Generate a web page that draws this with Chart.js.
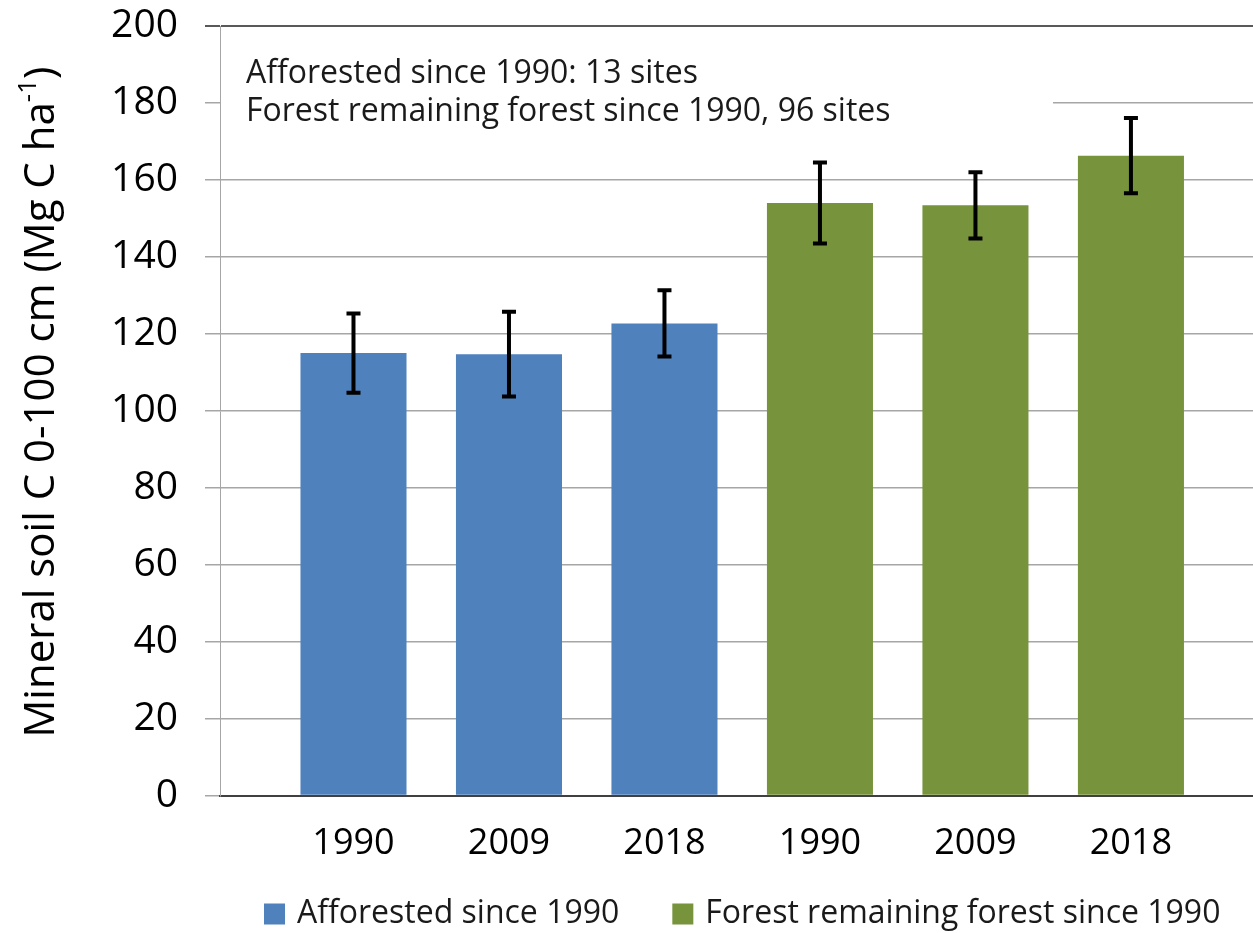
<!DOCTYPE html>
<html>
<head>
<meta charset="utf-8">
<script src="https://cdn.jsdelivr.net/npm/chart.js@4.4.1/dist/chart.umd.min.js"></script>
<style>
  html, body { margin: 0; padding: 0; background: #ffffff; }
  canvas { display: block; }
</style>
</head>
<body>
<canvas id="soilChart" width="1253" height="933"></canvas>
<script>
// Category labels along the x axis (three sampling years per land-use group)
const years = ['1990', '2009', '2018', '1990', '2009', '2018'];
const seriesNames = ['Afforested since 1990', 'Forest remaining forest since 1990'];

// Mean mineral soil carbon stock, 0-100 cm (Mg C ha-1), and error-bar half widths
const afforestedMean = [115.0, 114.7, 122.7];
const afforestedErr  = [10.3, 11.0, 8.6];
const forestMean     = [154.0, 153.4, 166.3];
const forestErr      = [10.5, 8.6, 9.8];

// Value axis ticks
const yTicks = [0, 20, 40, 60, 80, 100, 120, 140, 160, 180, 200];

// Note lines in the upper-left corner of the plot
const notes = ['Afforested since 1990: 13 sites', 'Forest remaining forest since 1990, 96 sites'];

// Axis title, split around the superscript
const yTitleMain = 'Mineral soil C 0-100 cm (Mg C ha';
const yTitleSup = '-1';
const yTitleEnd = ')';

const FONT = "'Open Sans', 'Noto Sans', sans-serif";
const BLUE = '#4f81bd';
const GREEN = '#77933c';

const afforestedPoints = afforestedMean.map((v, i) => ({ x: i, y: v }));
const forestPoints = forestMean.map((v, i) => ({ x: i + afforestedMean.length, y: v }));

const overlay = {
  id: 'overlay',
  beforeDatasetsDraw(chart) {
    const { ctx, chartArea } = chart;
    ctx.save();
    // white note box sitting over the gridlines
    ctx.fillStyle = '#ffffff';
    ctx.fillRect(chartArea.left + 1, chartArea.top + 2, 1053 - chartArea.left - 1, 140 - chartArea.top - 2);
    ctx.fillStyle = '#1a1a1a';
    ctx.font = '32px ' + FONT;
    ctx.textAlign = 'left';
    ctx.textBaseline = 'middle';
    notes.forEach((t, i) => ctx.fillText(t, 246, 74 + i * 38));
    ctx.restore();
  },
  afterDatasetsDraw(chart) {
    const { ctx } = chart;
    const yScale = chart.scales.y;
    ctx.save();
    ctx.strokeStyle = '#000000';
    ctx.lineWidth = 4;
    ctx.lineCap = 'butt';
    chart.data.datasets.forEach((ds, di) => {
      const meta = chart.getDatasetMeta(di);
      meta.data.forEach((bar, i) => {
        const v = ds.data[i].y;
        const e = ds.errors[i];
        const yHi = yScale.getPixelForValue(v + e);
        const yLo = yScale.getPixelForValue(v - e);
        const x = bar.x;
        ctx.beginPath();
        ctx.moveTo(x, yHi);
        ctx.lineTo(x, yLo);
        ctx.moveTo(x - 7, yHi);
        ctx.lineTo(x + 7, yHi);
        ctx.moveTo(x - 7, yLo);
        ctx.lineTo(x + 7, yLo);
        ctx.stroke();
      });
    });
    ctx.restore();
  },
  afterDraw(chart) {
    const { ctx } = chart;
    ctx.save();
    // rotated value-axis title with superscript
    const big = '42px ' + FONT;
    const small = '26px ' + FONT;
    ctx.font = big;
    const w1 = ctx.measureText(yTitleMain).width;
    const w3 = ctx.measureText(yTitleEnd).width;
    ctx.font = small;
    const w2 = ctx.measureText(yTitleSup).width;
    const total = w1 + w2 + w3;
    ctx.translate(42, 402);
    ctx.rotate(-Math.PI / 2);
    ctx.fillStyle = '#000000';
    ctx.textBaseline = 'middle';
    ctx.textAlign = 'left';
    const x0 = -total / 2;
    ctx.font = big;
    ctx.fillText(yTitleMain, x0, 0);
    ctx.font = small;
    ctx.fillText(yTitleSup, x0 + w1, -13);
    ctx.font = big;
    ctx.fillText(yTitleEnd, x0 + w1 + w2, 0);
    ctx.restore();

    // legend under the axis
    ctx.save();
    ctx.font = '32px ' + FONT;
    ctx.textBaseline = 'middle';
    ctx.textAlign = 'left';
    let lx = 264;
    const ly = 914;
    chart.data.datasets.forEach((ds) => {
      ctx.fillStyle = ds.backgroundColor;
      ctx.fillRect(lx, ly - 10.5, 21, 21);
      ctx.fillStyle = '#1a1a1a';
      ctx.fillText(ds.label, lx + 33, ly);
      lx += 33 + ctx.measureText(ds.label).width + 53;
    });
    ctx.restore();
  }
};

new Chart(document.getElementById('soilChart'), {
  type: 'bar',
  data: {
    datasets: [
      { label: seriesNames[0], data: afforestedPoints, errors: afforestedErr, backgroundColor: BLUE },
      { label: seriesNames[1], data: forestPoints, errors: forestErr, backgroundColor: GREEN }
    ]
  },
  options: {
    responsive: false,
    animation: false,
    devicePixelRatio: 1,
    layout: { padding: { top: 26, left: 0, right: 0, bottom: 0 } },
    datasets: { bar: { grouped: false, categoryPercentage: 1, barPercentage: 0.682 } },
    plugins: { legend: { display: false }, tooltip: { enabled: false } },
    scales: {
      x: {
        type: 'linear',
        offset: false,
        min: -0.8585,
        max: 5.785,
        afterBuildTicks(scale) { scale.ticks = years.map((_, i) => ({ value: i })); },
        afterFit(scale) {
          scale.height = 933 - 795.5;
          scale.paddingLeft = 0;
          scale.paddingRight = 0;
        },
        ticks: {
          autoSkip: false,
          maxRotation: 0,
          padding: 27,
          color: '#000000',
          font: { family: FONT, size: 36 },
          callback: (v) => years[v]
        },
        grid: { display: false, drawTicks: false, offset: false },
        border: { display: true, color: '#404040', width: 2 }
      },
      y: {
        min: 0,
        max: 200,
        afterBuildTicks(scale) { scale.ticks = yTicks.map(v => ({ value: v })); },
        afterFit(scale) {
          scale.width = 220;
          scale.paddingTop = 0;
          scale.paddingBottom = 0;
        },
        ticks: {
          padding: 27,
          color: '#000000',
          font: { family: FONT, size: 39 }
        },
        grid: {
          color: (c) => (c.tick && c.tick.value === 200 ? '#595959' : '#a6a6a6'),
          lineWidth: (c) => (c.tick && c.tick.value === 200 ? 2 : 1.5),
          drawTicks: true,
          tickLength: 15
        },
        border: { display: true, color: '#a6a6a6', width: 1 }
      }
    }
  },
  plugins: [overlay]
});
</script>
</body>
</html>
